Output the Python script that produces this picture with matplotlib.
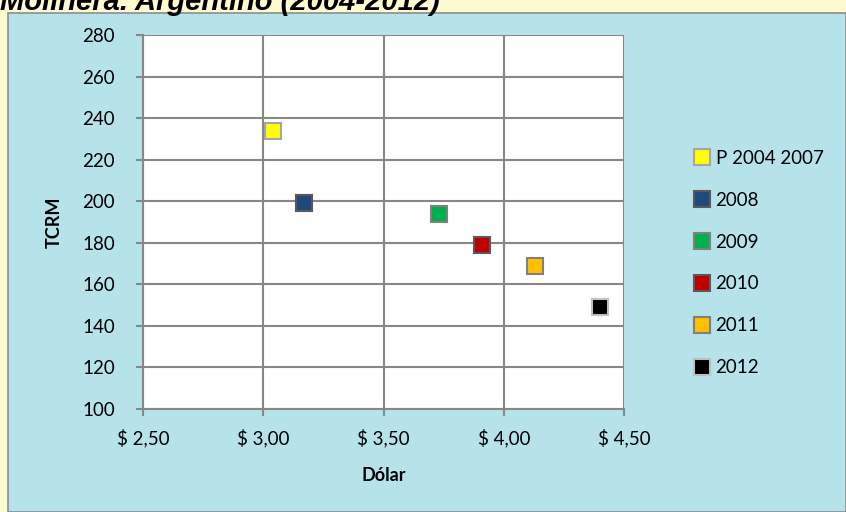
import matplotlib
matplotlib.use('Agg')
import matplotlib.pyplot as plt
from matplotlib.patches import Rectangle
from matplotlib.ticker import FuncFormatter

plt.rcParams['font.family'] = ['Lato', 'DejaVu Sans']

# data
years = ['P 2004 2007', '2008', '2009', '2010', '2011', '2012']
dolar = [3.04, 3.17, 3.73, 3.91, 4.13, 4.40]
tcrm = [234, 199, 194, 179, 169, 149]

fill_colors = ['#FFFF00', '#1F497D', '#00B050', '#C00000', '#FFC000', '#000000']
edge_colors = ['#A6A6A6', '#595959', '#808080', '#595959', '#808080', '#BFBFBF']

W, H = 846, 512
fig = plt.figure(figsize=(W / 100, H / 100), dpi=100)
fig.patch.set_facecolor('#FFFBD0')

# chart area background (water texture approximated by flat colour)
fig.patches.append(Rectangle((8 / W, 0), 1 - 8 / W, 1 - 13 / H, transform=fig.transFigure,
                             facecolor='#B6E2EA', edgecolor='#8C8C8C', linewidth=1.2, zorder=-5))

# title, cut off at the top edge like in the source
fig.text(0 / W, 1 - 10 / H, 'Molinera. Argentino (2004-2012)', family=['Liberation Sans'],
         fontsize=21, fontweight='bold', style='italic', ha='left', va='baseline')

ax = fig.add_axes([143 / W, 1 - 409 / H, 481 / W, 374 / H])
ax.set_facecolor('white')

for x, y, lab, fc, ec in zip(dolar, tcrm, years, fill_colors, edge_colors):
    ax.plot(x, y, linestyle='none', marker='s', markersize=11.5, markerfacecolor=fc,
            markeredgecolor=ec, markeredgewidth=1.5, label=lab, zorder=3)

ax.set_xlim(2.5, 4.5)
ax.set_ylim(100, 280)
ax.set_xticks([2.5, 3.0, 3.5, 4.0, 4.5])
ax.set_yticks(range(100, 281, 20))
ax.xaxis.set_major_formatter(FuncFormatter(lambda v, p: '$ ' + f'{v:.2f}'.replace('.', ',')))

ax.grid(True, color='#878787', linewidth=1.5)
ax.set_axisbelow(True)
for s in ['top', 'right']:
    ax.spines[s].set_visible(False)
for s in ['left', 'bottom']:
    ax.spines[s].set_color('#878787')
    ax.spines[s].set_linewidth(1.5)

ax.tick_params(axis='both', which='major', direction='out', length=5, width=1.5, color='#878787',
               labelsize=13.5, labelcolor='black')
ax.tick_params(axis='y', pad=15)
ax.tick_params(axis='x', pad=9)

ax.set_xlabel('Dólar', fontsize=13, fontweight='bold', labelpad=14)
ax.set_ylabel('TCRM', fontsize=13, fontweight='bold', labelpad=14)

leg = ax.legend(loc='center left', bbox_to_anchor=(678 / W, 1 - 263 / H),
                bbox_transform=fig.transFigure, frameon=False, fontsize=13.5,
                handlelength=0.8, handletextpad=0.3, labelspacing=1.33, markerscale=0.95)

fig.savefig('out.png', dpi=100, facecolor=fig.get_facecolor())
